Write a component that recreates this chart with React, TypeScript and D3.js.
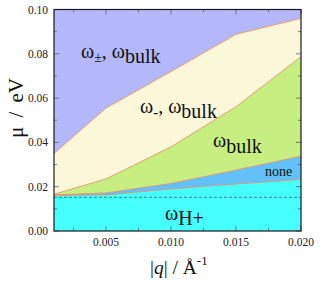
import * as d3 from 'd3';

// q values where the boundaries were sampled
const qValues = [0.001, 0.005, 0.010, 0.015, 0.020];
// boundary between ω± region and ω- region
const upperBoundary = [0.035, 0.0555, 0.072, 0.0888, 0.096];
// boundary between ω- region and ωbulk region
const bulkBoundary = [0.0166, 0.0235, 0.038, 0.0561, 0.0787];
// boundary between ωbulk and "none"
const noneTop = [0.0163, 0.0172, 0.0215, 0.0275, 0.0338];
// boundary between "none" and ωH+
const noneBottom = [0.016, 0.0163, 0.019, 0.0212, 0.0233];
const dashedLevel = 0.0152;

const xMajor = [0.005, 0.010, 0.015, 0.020];
const xMinor = [0.0025, 0.0075, 0.0125, 0.0175];
const yMajor = [0.0, 0.02, 0.04, 0.06, 0.08, 0.10];
const yMinor = [0.01, 0.03, 0.05, 0.07, 0.09];

const W = 329;
const H = 284;
const left = 54, right = 301, top = 9.5, bottom = 231;

const App = () => {
  const x = d3.scaleLinear().domain([0.001, 0.02]).range([left, right]);
  const y = d3.scaleLinear().domain([0, 0.1]).range([bottom, top]);

  // filled area from zero up to a boundary
  const fillTo = (vals: number[]) =>
    d3.area<number>()
      .x((_, i) => x(qValues[i]))
      .y0(y(0))
      .y1((d) => y(d))(vals) || '';

  const line = (vals: number[]) =>
    d3.line<number>()
      .x((_, i) => x(qValues[i]))
      .y((d) => y(d))(vals) || '';

  const serif = '"Liberation Serif", "Times New Roman", serif';

  return (
    <svg width={W} height={H} style={{ position: 'absolute', left: 0, top: 0 }} fontFamily={serif}>
      <rect x={0} y={0} width={W} height={H} fill="#ffffff" />
      {/* regions, stacked from the top down */}
      <rect x={left} y={top} width={right - left} height={bottom - top} fill="#b4b8fa" />
      <path d={fillTo(upperBoundary)} fill="#fbf8da" />
      <path d={fillTo(bulkBoundary)} fill="#c7ee80" />
      <path d={fillTo(noneTop)} fill="#62c0fa" />
      <path d={fillTo(noneBottom)} fill="#46ffff" />

      {/* boundary lines */}
      {[upperBoundary, bulkBoundary, noneTop, noneBottom].map((b, i) => (
        <path key={i} d={line(b)} fill="none" stroke="#e8946e" strokeWidth={0.9} />
      ))}
      <line x1={left} x2={right} y1={y(dashedLevel)} y2={y(dashedLevel)}
        stroke="#2a7c86" strokeWidth={0.9} strokeDasharray="3,2" />

      {/* ticks, all pointing inward */}
      {xMajor.map((t) => (
        <g key={'xM' + t} stroke="#5a6070" strokeWidth={0.8}>
          <line x1={x(t)} x2={x(t)} y1={bottom} y2={bottom - 5} />
          <line x1={x(t)} x2={x(t)} y1={top} y2={top + 5} />
        </g>
      ))}
      {xMinor.map((t) => (
        <g key={'xm' + t} stroke="#5a6070" strokeWidth={0.8}>
          <line x1={x(t)} x2={x(t)} y1={bottom} y2={bottom - 3} />
          <line x1={x(t)} x2={x(t)} y1={top} y2={top + 3} />
        </g>
      ))}
      {yMajor.map((t) => (
        <g key={'yM' + t} stroke="#5a6070" strokeWidth={0.8}>
          <line x1={left} x2={left + 5} y1={y(t)} y2={y(t)} />
          <line x1={right} x2={right - 5} y1={y(t)} y2={y(t)} />
        </g>
      ))}
      {yMinor.map((t) => (
        <g key={'ym' + t} stroke="#5a6070" strokeWidth={0.8}>
          <line x1={left} x2={left + 3} y1={y(t)} y2={y(t)} />
          <line x1={right} x2={right - 3} y1={y(t)} y2={y(t)} />
        </g>
      ))}

      {/* frame */}
      <rect x={left} y={top} width={right - left} height={bottom - top}
        fill="none" stroke="#1a1a1a" strokeWidth={1.2} />

      {/* tick labels */}
      {xMajor.map((t) => (
        <text key={'xl' + t} x={x(t)} y={246} textAnchor="middle" fontSize={11.5} fill="#222">
          {d3.format('.3f')(t)}
        </text>
      ))}
      {yMajor.map((t) => (
        <text key={'yl' + t} x={48} y={y(t) + 4} textAnchor="end" fontSize={11.5} fill="#222">
          {d3.format('.2f')(t)}
        </text>
      ))}

      {/* axis titles */}
      <text x={150} y={274} fontSize={19.5} fill="#111">
        |<tspan fontStyle="italic">q</tspan>| / Å<tspan fontSize={13} dy={-9}>-1</tspan>
      </text>
      <text transform={`translate(23,108) rotate(-90)`} textAnchor="middle" fontSize={21}
        fill="#111" wordSpacing={4}>
        μ / eV
      </text>

      {/* region labels */}
      <text x={81} y={58} fontSize={20} fill="#111">
        ω<tspan fontSize={14} dy={4}>±</tspan><tspan dy={-4}>, ω</tspan><tspan dy={5}>bulk</tspan>
      </text>
      <text x={140} y={113} fontSize={20} fill="#111">
        ω<tspan fontSize={15} dy={4} fontWeight="bold">-</tspan><tspan dy={-4}>, ω</tspan><tspan dy={5}>bulk</tspan>
      </text>
      <text x={213} y={147} fontSize={20} fill="#111">
        ω<tspan dy={6}>bulk</tspan>
      </text>
      <text x={265} y={176} fontSize={14} fill="#111">none</text>
      <text x={165} y={220} fontSize={20} fill="#111">
        ω<tspan dy={5}>H+</tspan>
      </text>
    </svg>
  );
};

export default App;
